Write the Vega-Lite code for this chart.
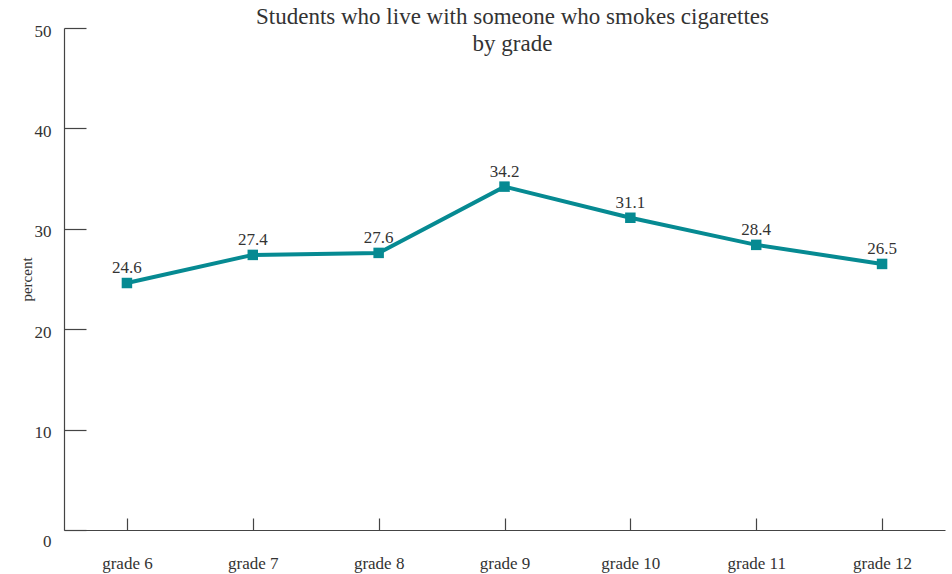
{
  "$schema": "https://vega.github.io/schema/vega-lite/v6.json",
  "width": 881,
  "height": 502,
  "autosize": {"type": "none"},
  "padding": {"left": 64, "top": 28, "right": 7, "bottom": 44},
  "background": "white",
  "config": {
    "view": {"stroke": null},
    "font": "Liberation Serif, DejaVu Serif, serif",
    "axis": {"grid": false, "domainColor": "#444", "tickColor": "#444", "labelColor": "#333", "titleColor": "#333", "labelFont": "Liberation Serif, DejaVu Serif, serif", "titleFont": "Liberation Serif, DejaVu Serif, serif", "labelFontSize": 17, "domainWidth": 1.2, "tickWidth": 1.2}
  },
  "title": {
    "text": ["Students who live with someone who smokes cigarettes", "by grade"],
    "font": "Liberation Serif, DejaVu Serif, serif",
    "fontSize": 23,
    "fontWeight": "normal",
    "color": "#333",
    "lineHeight": 27,
    "anchor": "middle",
    "frame": "group",
    "baseline": "bottom",
    "offset": -57,
    "dx": 8
  },
  "data": {
    "values": [
      {"grade": "grade 6", "percent": 24.6},
      {"grade": "grade 7", "percent": 27.4},
      {"grade": "grade 8", "percent": 27.6},
      {"grade": "grade 9", "percent": 34.2},
      {"grade": "grade 10", "percent": 31.1},
      {"grade": "grade 11", "percent": 28.4},
      {"grade": "grade 12", "percent": 26.5}
    ]
  },
  "encoding": {
    "x": {
      "field": "grade", "type": "ordinal", "sort": null,
      "scale": {"type": "point", "padding": 0.5},
      "axis": {"title": null, "labelAngle": 0, "tickSize": -12, "labelPadding": 37, "labelBaseline": "top"}
    },
    "y": {
      "field": "percent", "type": "quantitative",
      "scale": {"domain": [0, 50], "nice": false},
      "axis": {"title": "percent", "titleFontSize": 15, "titleFontWeight": "normal", "values": [0, 10, 20, 30, 40, 50], "tickSize": -22, "labelPadding": 35, "labelBaseline": "middle", "labelOffset": {"expr": "datum.value == 0 ? 11 : 3"}, "titleX": -33, "titleY": 251, "titleBaseline": "alphabetic", "titleAngle": -90}
    }
  },
  "layer": [
    {"mark": {"type": "line", "color": "#068a92", "strokeWidth": 4}},
    {"mark": {"type": "square", "color": "#068a92", "size": 110, "opacity": 1, "filled": true}},
    {"mark": {"type": "text", "dy": -6, "baseline": "bottom", "fontSize": 17, "color": "#333", "font": "Liberation Serif, DejaVu Serif, serif"}, "encoding": {"text": {"field": "percent", "type": "quantitative", "format": ".1f"}}}
  ]
}
